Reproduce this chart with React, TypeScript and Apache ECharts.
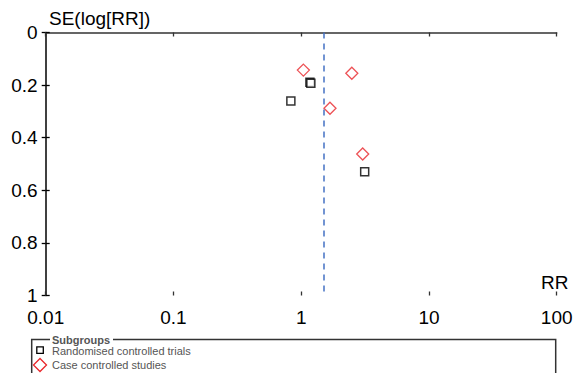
import React, { useEffect, useRef } from "react";
import * as echarts from "echarts";

// Funnel plot data (RR, SE of log RR)
const rctRR = [0.83, 1.17, 1.19, 3.14];
const rctSE = [0.26, 0.189, 0.193, 0.529];
const ccsRR = [1.04, 2.49, 1.68, 3.03];
const ccsSE = [0.143, 0.155, 0.288, 0.462];
const pooledRR = 1.5;
const xTicks = [0.01, 0.1, 1, 10, 100];
const seriesNames = ["Randomised controlled trials", "Case controlled studies"];
const legendTitle = "Subgroups";
const yAxisName = "SE(log[RR])";
const xAxisName = "RR";

const FONT = "'Liberation Sans', Arial, sans-serif";

export default function App() {
  const ref = useRef<HTMLDivElement>(null);
  useEffect(() => {
    document.body.style.margin = "0";
    if (!ref.current) return;
    const chart = echarts.init(ref.current, undefined, { renderer: "svg" });
    const gridLeft = 45.7;
    const gridRight = 22.3;
    const gridTop = 32.5;
    const gridBottom = 77.5;
    const gw = 579 - gridLeft - gridRight;
    const gh = 373 - gridTop - gridBottom;
    const fmtX = (v: number) => String(parseFloat(Number(v).toPrecision(6)));
    const fmtY = (v: number) => String(parseFloat(Number(v).toFixed(1)));
    const xBase = {
      type: "log" as const,
      logBase: 10,
      min: xTicks[0],
      max: xTicks[xTicks.length - 1],
      splitLine: { show: false },
    };
    const yBase = {
      type: "value" as const,
      inverse: true,
      min: 0,
      max: 1,
      interval: 0.2,
      splitLine: { show: false },
    };
    chart.setOption({
      animation: false,
      textStyle: { fontFamily: FONT },
      grid: { left: gridLeft, right: gridRight, top: gridTop, bottom: gridBottom, containLabel: false },
      xAxis: [
        {
          ...xBase,
          position: "bottom",
          axisLine: { show: true, lineStyle: { color: "#333", width: 1.5 } },
          axisTick: { show: true, inside: false, length: 4, lineStyle: { color: "#333", width: 1.3 } },
          axisLabel: { show: true, color: "#000", fontSize: 19, margin: 12, formatter: fmtX, fontFamily: FONT },
        },
        {
          ...xBase,
          position: "top",
          offset: -gh,
          axisLine: { show: false },
          axisTick: { show: true, inside: false, length: 4, lineStyle: { color: "#333", width: 1.3 } },
          axisLabel: { show: false },
        },
      ],
      yAxis: [
        {
          ...yBase,
          position: "left",
          axisLine: { show: true, lineStyle: { color: "#000", width: 1.5 } },
          axisTick: { show: true, inside: false, length: 4, lineStyle: { color: "#000", width: 1.3 } },
          axisLabel: { show: true, color: "#000", fontSize: 19, margin: 8, formatter: fmtY, fontFamily: FONT },
        },
        {
          ...yBase,
          position: "right",
          offset: -gw,
          axisLine: { show: false },
          axisTick: { show: true, inside: false, length: 4, lineStyle: { color: "#000", width: 1.3 } },
          axisLabel: { show: false },
        },
      ],
      series: [
        {
          name: seriesNames[0],
          type: "scatter",
          xAxisIndex: 0,
          yAxisIndex: 0,
          symbol: "rect",
          symbolSize: 8,
          itemStyle: { color: "#fff", borderColor: "#000", borderWidth: 1.5 },
          data: rctRR.map((r, i) => [r, rctSE[i]]),
          markLine: {
            silent: true,
            symbol: "none",
            label: { show: false },
            lineStyle: { color: "#4472c4", type: [6, 5], width: 1.5 },
            data: [{ xAxis: pooledRR }],
          },
          z: 3,
        },
        {
          name: seriesNames[1],
          type: "scatter",
          xAxisIndex: 0,
          yAxisIndex: 0,
          symbol: "diamond",
          symbolSize: 12,
          itemStyle: { color: "#fff", borderColor: "#e8262a", borderWidth: 1.3 },
          data: ccsRR.map((r, i) => [r, ccsSE[i]]),
          z: 3,
        },
      ],
      graphic: [
        {
          type: "text",
          left: 49,
          top: 9,
          style: { text: yAxisName, fontSize: 19, fill: "#000", fontFamily: FONT },
        },
        {
          type: "text",
          left: 541,
          top: 273,
          style: { text: xAxisName, fontSize: 19, fill: "#000", fontFamily: FONT },
        },
        {
          type: "rect",
          shape: { x: 31.7, y: 339.5, width: 524, height: 60 },
          style: { fill: "none", stroke: "#333", lineWidth: 1.5 },
        },
        {
          type: "rect",
          shape: { x: 50, y: 333, width: 63, height: 13 },
          style: { fill: "#fff", stroke: "none" },
        },
        {
          type: "text",
          x: 52,
          y: 340,
          style: {
            text: legendTitle,
            fontSize: 11,
            fontWeight: "bold",
            fill: "#555",
            fontFamily: FONT,
            verticalAlign: "middle",
          },
        },
        {
          type: "rect",
          shape: { x: 36.8, y: 346.8, width: 6.5, height: 6.5 },
          style: { fill: "#fff", stroke: "#000", lineWidth: 1.3 },
        },
        {
          type: "text",
          x: 52,
          y: 350.5,
          style: { text: seriesNames[0], fontSize: 11, fill: "#555", fontFamily: FONT, verticalAlign: "middle" },
        },
        {
          type: "polygon",
          shape: { points: [[40, 358.5], [46.5, 365], [40, 371.5], [33.5, 365]] },
          style: { fill: "#fff", stroke: "#e8262a", lineWidth: 1.3 },
        },
        {
          type: "text",
          x: 52,
          y: 365,
          style: { text: seriesNames[1], fontSize: 11, fill: "#555", fontFamily: FONT, verticalAlign: "middle" },
        },
      ],
    });
    return () => chart.dispose();
  }, []);
  return <div ref={ref} style={{ width: 579, height: 373, background: "#fff" }} />;
}
